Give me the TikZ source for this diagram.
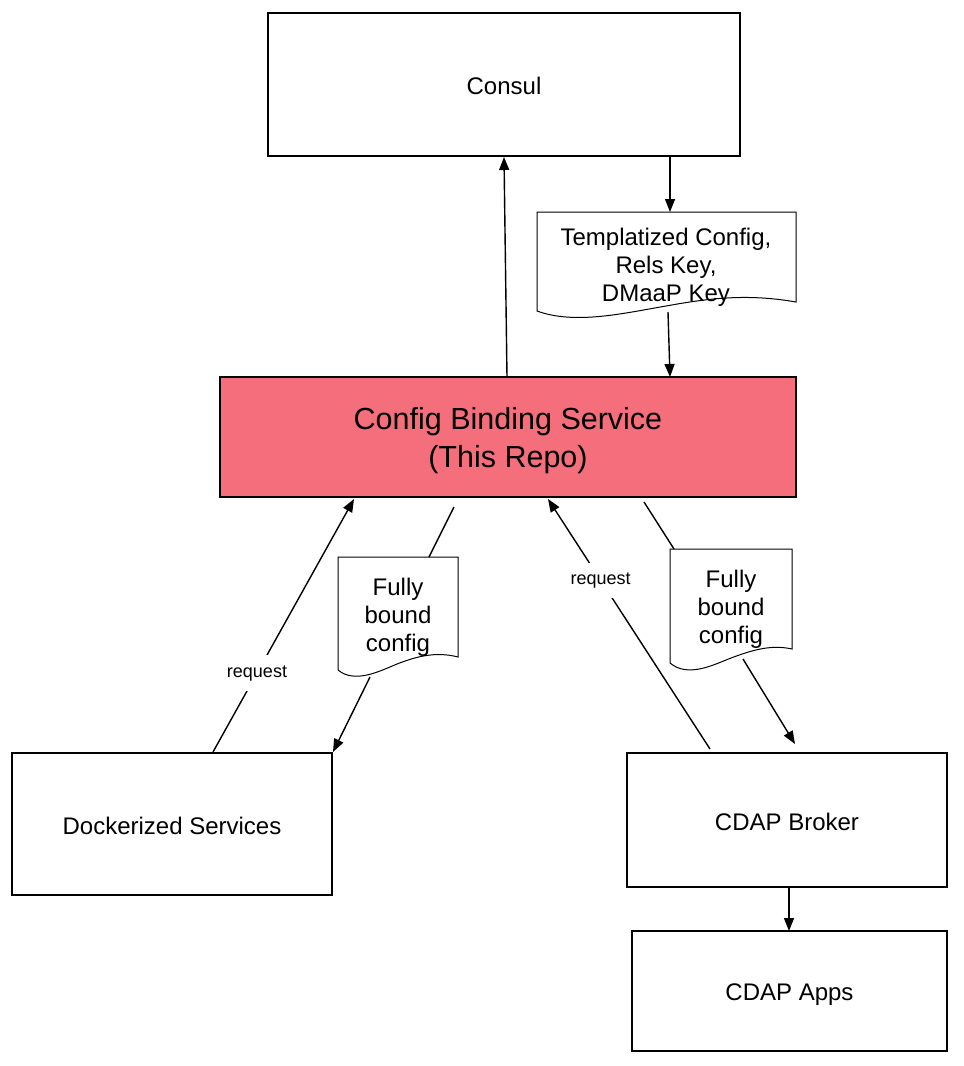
\documentclass[tikz,border=0pt]{standalone}
\usepackage{fontspec}
\setmainfont{Liberation Sans}
\usetikzlibrary{arrows.meta}
\definecolor{cbspink}{RGB}{245,110,124}
\begin{document}
\begin{tikzpicture}[x=1pt,y=-1pt,
  box/.style={draw, line width=1.8pt, inner sep=0pt},
  boxtext/.style={inner sep=0pt, font=\fontsize{24}{28}\selectfont, align=center},
  doctext/.style={inner sep=0pt, font=\fontsize{24}{28}\selectfont, align=center},
  docshape/.style={draw, line width=1pt, fill=white},
  conn/.style={line width=1.4pt, -{Triangle[length=13pt,width=10pt]}},
  plainline/.style={line width=1.4pt},
  lbl/.style={fill=white, inner xsep=3pt, inner ysep=10pt, font=\fontsize{18}{20}\selectfont}
]
\useasboundingbox (0,0) rectangle (964,1066);

% boxes
\node[box, minimum width=472pt, minimum height=143pt] (consul) at (504,84.5) {};
\node[boxtext] (consulText) at (504,85.5) {Consul};
\node[box, fill=cbspink, minimum width=576pt, minimum height=120pt] (cbs) at (508,437) {};
\node[boxtext, font=\fontsize{30.5}{38}\selectfont] (cbsText) at (508,441) {Config Binding Service\\(This Repo)};
\node[box, minimum width=320pt, minimum height=142pt] (ds) at (172,824) {};
\node[boxtext] (dsText) at (172,826) {Dockerized Services};
\node[box, minimum width=320pt, minimum height=134pt] (broker) at (787,820) {};
\node[boxtext] (brokerText) at (787,821.5) {CDAP Broker};
\node[box, minimum width=315pt, minimum height=120pt] (apps) at (789.5,991) {};
\node[boxtext] (appsText) at (789.5,995) {CDAP Apps};

% documents
\draw[docshape] (537,212) -- (796,212) -- (796,302) .. controls (745,293) and (705,299) .. (666,306) .. controls (625,313) and (575,325) .. (537,311) -- cycle;
\node[doctext] (templ) at (666,267) {Templatized Config,\\Rels Key,\\DMaaP Key};

\draw[docshape] (338,557) -- (458,557) -- (458,657) .. controls (435,651) and (415,657) .. (397,664) .. controls (380,671) and (355,684) .. (338,670) -- cycle;
\node[doctext] (fbl) at (398,617) {Fully\\bound\\config};

\draw[docshape] (670,549) -- (792,549) -- (792,649) .. controls (770,644) and (750,651) .. (731,658) .. controls (713,665) and (688,678) .. (670,663) -- cycle;
\node[doctext] (fbr) at (731,609) {Fully\\bound\\config};

% connector end points
\coordinate (consulOut) at (670,156);
\coordinate (templTop) at (670,212);
\coordinate (templBot) at (668,312);
\coordinate (cbsIn) at (670,377);
\coordinate (cbsOut) at (507,377);
\coordinate (consulIn) at (504,157);

\coordinate (dsOut) at (213,752);
\coordinate (cbsInL) at (354,499);
\coordinate (cbsOutL) at (454,507);
\coordinate (fblTop) at (429,557);
\coordinate (fblBot) at (370,677);
\coordinate (dsIn) at (333,752);

\coordinate (brokerOut) at (710,749);
\coordinate (cbsInR) at (548,499);
\coordinate (cbsOutR) at (644,502);
\coordinate (fbrTop) at (674,549);
\coordinate (fbrBot) at (743,659);
\coordinate (brokerIn) at (795,744);

\coordinate (brokerDown) at (789,887);
\coordinate (appsIn) at (789,931);

% connectors
\draw[conn] (consulOut) -- (templTop);
\draw[conn] (templBot) -- (cbsIn);
\draw[conn] (cbsOut) -- (consulIn);

\draw[conn] (dsOut) -- node[lbl, pos=0.312] {request} (cbsInL);
\draw[plainline] (cbsOutL) -- (fblTop);
\draw[conn] (fblBot) -- (dsIn);

\draw[conn] (brokerOut) -- node[lbl, pos=0.675] {request} (cbsInR);
\draw[plainline] (cbsOutR) -- (fbrTop);
\draw[conn] (fbrBot) -- (brokerIn);

\draw[conn] (brokerDown) -- (appsIn);
\end{tikzpicture}
\end{document}
